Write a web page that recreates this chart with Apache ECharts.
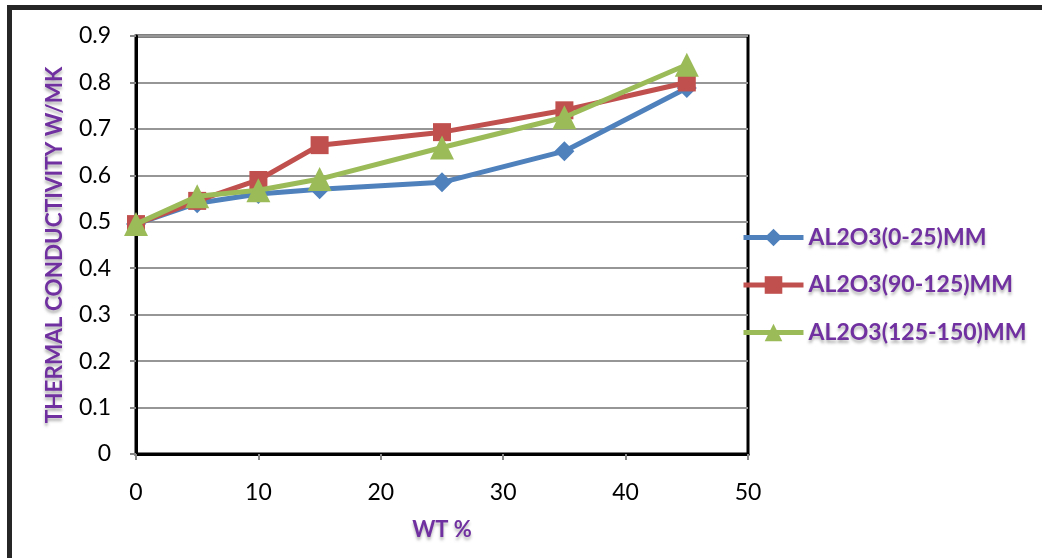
<!DOCTYPE html>
<html>
<head>
<meta charset="utf-8">
<script src="https://cdn.jsdelivr.net/npm/echarts@6/dist/echarts.min.js"></script>
<style>html,body{margin:0;padding:0;background:#fff;}#c{width:1042px;height:558px;}</style>
</head>
<body>
<div id="c"></div>
<script>
const wt = [0, 5, 10, 15, 25, 35, 45];
const s1Name = 'AL2O3(0-25)MM';
const s2Name = 'AL2O3(90-125)MM';
const s3Name = 'AL2O3(125-150)MM';
const s1 = [0.495, 0.54, 0.56, 0.57, 0.585, 0.652, 0.788];
const s2 = [0.495, 0.545, 0.59, 0.665, 0.693, 0.74, 0.80];
const s3 = [0.495, 0.555, 0.568, 0.592, 0.66, 0.725, 0.838];

const purple = '#7030A0';
const fontFam = 'Lato, "Open Sans", sans-serif';
const shadow = {textShadowColor:'rgba(90,90,90,0.45)', textShadowBlur:3, textShadowOffsetY:3};

function pairs(v){ return wt.map((x,i)=>[x, v[i]]); }

const chart = echarts.init(document.getElementById('c'), null, {renderer:'canvas'});
chart.setOption({
  animation:false,
  backgroundColor:'#fff',
  graphic:[{type:'rect', shape:{x:9.5, y:7.5, width:1100, height:700}, style:{fill:'none', stroke:'#262626', lineWidth:5}, z:-1}],
  grid:{left:136, top:36, width:612, height:418, show:true, borderColor:'#000', borderWidth:3, backgroundColor:'transparent'},
  xAxis:{type:'value', min:0, max:50, interval:10,
    name:'WT %', nameLocation:'middle', nameGap:65,
    nameTextStyle:Object.assign({color:purple, fontFamily:fontFam, fontWeight:'bold', fontSize:22}, shadow),
    axisLine:{show:true, lineStyle:{color:'#000', width:3}},
    axisTick:{show:true, length:6, lineStyle:{color:'#888', width:2}},
    axisLabel:{color:'#000', fontFamily:fontFam, fontSize:23, margin:27},
    splitLine:{show:false}},
  yAxis:{type:'value', min:0, max:0.9, interval:0.1,
    name:'THERMAL CONDUCTIVITY W/MK', nameLocation:'middle', nameGap:70, nameRotate:90,
    nameTextStyle:Object.assign({color:purple, fontFamily:fontFam, fontWeight:'bold', fontSize:22.5}, shadow),
    axisLine:{show:true, lineStyle:{color:'#000', width:3}},
    axisTick:{show:true, length:6, lineStyle:{color:'#888', width:2}},
    axisLabel:{color:'#000', fontFamily:fontFam, fontSize:23, margin:25},
    splitLine:{show:true, lineStyle:{color:'#969696', width:2}}},
  legend:{orient:'vertical', left:736, top:221, itemWidth:60, itemHeight:22, itemGap:24.5,
    lineStyle:{width:5},
    textStyle:Object.assign({color:purple, fontFamily:fontFam, fontWeight:'bold', fontSize:23}, shadow),
    data:[s1Name, s2Name, s3Name]},
  series:[
    {name:s1Name, type:'line', data:pairs(s1), symbol:'diamond', symbolSize:20, color:'#4F81BD', lineStyle:{width:5}, z:3},
    {name:s2Name, type:'line', data:pairs(s2), symbol:'rect', symbolSize:18, color:'#C0504D', lineStyle:{width:5}, z:4},
    {name:s3Name, type:'line', data:pairs(s3), symbol:'triangle', symbolSize:24, color:'#9BBB59', lineStyle:{width:5}, z:5}
  ]
});
</script>
</body>
</html>
